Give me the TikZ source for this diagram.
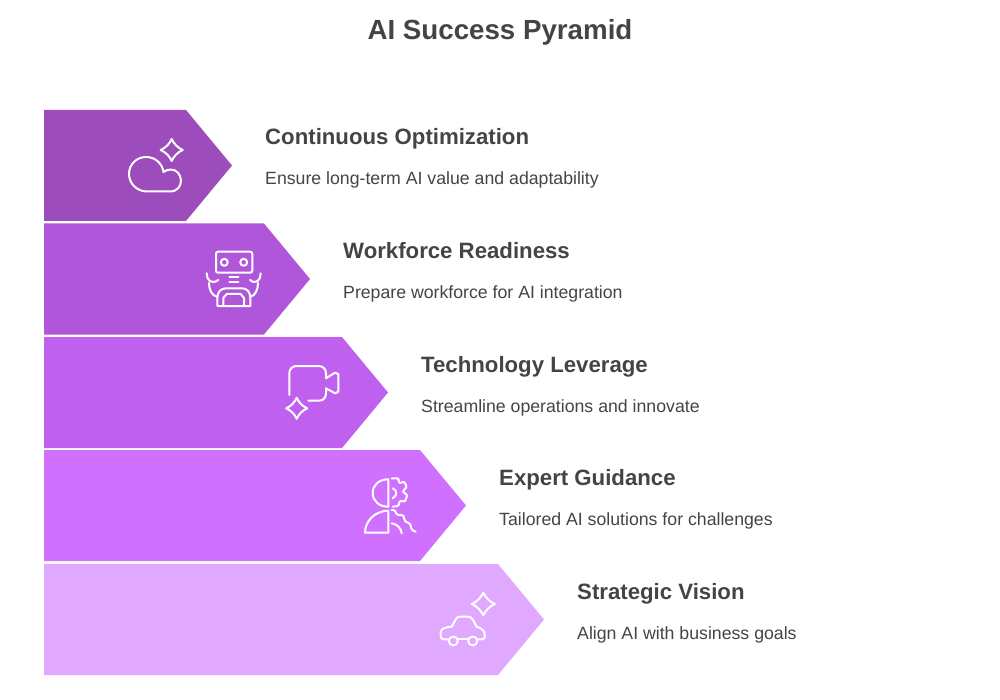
\documentclass[tikz,border=0pt]{standalone}
\usepackage{fontspec}
\setmainfont{Liberation Sans}
\definecolor{py_one}{RGB}{156, 76, 187}
\definecolor{py_two}{RGB}{176, 86, 218}
\definecolor{py_three}{RGB}{192, 96, 238}
\definecolor{py_four}{RGB}{208, 112, 255}
\definecolor{py_five}{RGB}{224, 168, 255}
\definecolor{py_text}{RGB}{68, 68, 68}
\tikzstyle{title}=[anchor=base,text=py_text,font=\bfseries\fontsize{27.7}{32}\selectfont]
\tikzstyle{head}=[anchor=base west,text=py_text,inner sep=0pt,font=\bfseries\fontsize{22.2}{27}\selectfont]
\tikzstyle{desc}=[anchor=base west,text=py_text,inner sep=0pt,font=\fontsize{17.7}{20}\selectfont]
\tikzstyle{icon}=[draw=white,line width=2pt,line cap=round,line join=round]
\newcommand{\sparkle}[3]{%
  \draw[icon,shift={(#1,#2)},scale=#3] (0,-1) .. controls (0.2,-0.55) and (0.55,-0.2) .. (1,0)
    .. controls (0.55,0.2) and (0.2,0.55) .. (0,1)
    .. controls (-0.2,0.55) and (-0.55,0.2) .. (-1,0)
    .. controls (-0.55,-0.2) and (-0.2,-0.55) .. (0,-1) -- cycle;}
\newcommand{\chevron}[3]{%
  \fill[#3] (44,#1) -- (#2,#1) -- ({#2+46},{#1+55.5}) -- (#2,{#1+111}) -- (44,{#1+111}) -- cycle;}
\begin{document}
\begin{tikzpicture}[x=1pt,y=-1pt]
    \useasboundingbox (0,0) rectangle (1000,700);
    \node [style=title] (title) at (500,40) {AI Success Pyramid};

    \chevron{110}{186}{py_one}
    \chevron{223.5}{264}{py_two}
    \chevron{337}{342}{py_three}
    \chevron{450}{420}{py_four}
    \chevron{564}{498}{py_five}

    \node [style=head] (optim) at (265,145) {Continuous Optimization};
    \node [style=desc] (optimtxt) at (265,185) {Ensure long-term AI value and adaptability};
    \node [style=head] (work) at (343,258.5) {Workforce Readiness};
    \node [style=desc] (worktxt) at (343,298.5) {Prepare workforce for AI integration};
    \node [style=head] (tech) at (421,372) {Technology Leverage};
    \node [style=desc] (techtxt) at (421,412) {Streamline operations and innovate};
    \node [style=head] (expert) at (499,485) {Expert Guidance};
    \node [style=desc] (experttxt) at (499,525) {Tailored AI solutions for challenges};
    \node [style=head] (vision) at (577,599) {Strategic Vision};
    \node [style=desc] (visiontxt) at (577,639) {Align AI with business goals};

    % cloud
    \sparkle{171.7}{150}{11}
    \draw[icon] (171,191.5) -- (147,191.5) .. controls (137,191.5) and (129,183.5) .. (129,174)
      .. controls (129,164) and (137,157) .. (146,157)
      .. controls (155,157) and (162,163) .. (163.5,172)
      .. controls (166,170) and (169,169.5) .. (171,169.5)
      .. controls (177,169.5) and (181,175) .. (181,181)
      .. controls (181,187) and (176,191.5) .. (171,191.5) -- cycle;

    % robot
    \draw[icon,rounded corners=2pt] (216,251.7) rectangle (252.3,272.7);
    \draw[icon] (224.3,262.3) circle (3.5);
    \draw[icon] (243.7,262.3) circle (3.5);
    \draw[icon] (229.3,276.7) -- (238.3,276.7);
    \draw[icon] (229.3,281.7) -- (238.3,281.7);
    \draw[icon] (217.3,306) -- (217.3,298) .. controls (217.3,292) and (221,288.3) .. (226,288.3)
      -- (242,288.3) .. controls (247,288.3) and (250.3,292) .. (250.3,298) -- (250.3,306) -- cycle;
    \draw[icon] (223.3,306) -- (223.3,298) -- (226.7,294) -- (240.7,294) -- (244,298) -- (244,306);
    \draw[icon] (206.7,273.3) .. controls (206.7,280) and (211,285) .. (218.3,280);
    \draw[icon] (209,283) .. controls (209,290) and (212,296) .. (217.3,296.7);
    \draw[icon] (260.7,273.3) .. controls (260.7,280) and (256,285) .. (250,280);
    \draw[icon] (258,283) .. controls (258,290) and (255,296) .. (250.3,296.7);

    % camera
    \draw[icon] (289.3,395) -- (289.3,373) .. controls (289.3,369) and (292.5,366) .. (296.7,366)
      -- (318.3,366) .. controls (323,366) and (326,369) .. (326,373.3)
      -- (326,378.3) -- (335,372.7) -- (338.3,374) -- (338.3,391.7) -- (335,393.3) -- (326,388.3) -- (326,393.3)
      .. controls (326,398) and (323,400.7) .. (319,400.7) -- (308.3,400.7);
    \sparkle{296.7}{408.3}{10.5}

    % head and gear
    \draw[icon] (388.3,479.3) .. controls (379,479.3) and (372.7,485) .. (372.7,493)
      .. controls (372.7,501) and (379,506.7) .. (388.3,506.7) -- cycle;
    \draw[icon] (388.3,510.7) -- (388.3,532.7) -- (365,532.7) .. controls (365,521) and (375,511) .. (388.3,510.7) -- cycle;
    \draw[icon,rounded corners=1pt] (391.7,478.3) -- (398.3,478.3) -- (399.3,483.3) -- (404.3,481.7) -- (406.7,486.7)
      -- (402.7,491.7) -- (407.3,495) -- (405,501.7) -- (400,500.7) -- (398.3,506) -- (392.7,506.7);
    \draw[icon] (392.7,488.3) .. controls (397,490) and (398,495) .. (392.7,498.3);
    \draw[icon,rounded corners=1.5pt] (391.7,510) -- (395,510) -- (396.7,515) -- (403.3,515) -- (405,521.7)
      -- (410,523.3) -- (411.7,530) -- (415.7,531.7);
    \draw[icon] (391.7,523.3) .. controls (397,524) and (401,528) .. (401.7,533.3);

    % car
    \sparkle{483.3}{604}{11.5}
    \draw[icon] (449,639.3) -- (444,639.3) .. controls (441.5,639.3) and (440.7,638) .. (440.7,636)
      -- (440.7,633) .. controls (440.7,629) and (444,627.3) .. (451.7,626.7)
      -- (456,619) .. controls (457,617) and (458,616.7) .. (460,616.7)
      -- (468,616.7) .. controls (470.5,616.7) and (471.5,617.5) .. (473,620)
      -- (476.7,626.7) -- (480,628) .. controls (484,630) and (485,633) .. (485,636)
      .. controls (485,638) and (484,639.3) .. (482,639.3) -- (477.5,639.3);
    \draw[icon] (458,639.3) -- (468,639.3);
    \draw[icon] (453.3,641) circle (4.5);
    \draw[icon] (472.7,641) circle (4.5);
\end{tikzpicture}
\end{document}
